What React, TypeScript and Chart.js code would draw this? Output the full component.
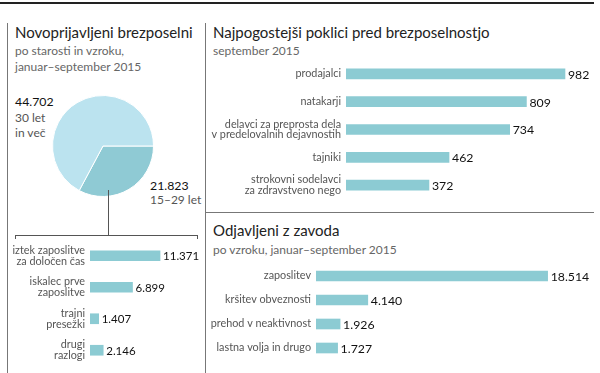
import React, { useEffect, useRef } from "react";
import { Chart, registerables } from "chart.js";
Chart.register(...registerables);

const FONT = "Lato, 'Open Sans', sans-serif";

const pieLabels = ["15–29 let", "30 let in več"];
const pieValues = [21823, 44702];

const reasonLabels = [
  ["iztek zaposlitve", "za določen čas"],
  ["iskalec prve", "zaposlitve"],
  ["trajni", "presežki"],
  ["drugi", "razlogi"],
];
const reasonValues = [11371, 6899, 1407, 2146];

const jobLabels = [
  "prodajalci",
  "natakarji",
  ["delavci za preprosta dela", "v predelovalnih dejavnostih"],
  "tajniki",
  ["strokovni sodelavci", "za zdravstveno nego"],
];
const jobValues = [982, 809, 734, 462, 372];

const outLabels = ["zaposlitev", "kršitev obveznosti", "prehod v neaktivnost", "lastna volja in drugo"];
const outValues = [18514, 4140, 1926, 1727];

const BAR = "#8ccbd3";
const PIE_LIGHT = "#bbe3ef";
const PIE_DARK = "#8fcad4";

const fmt = (v: number) => String(v).replace(/\B(?=(\d{3})+(?!\d))/g, ".");

function makeValuePlugin(size: number) {
  return {
    id: "vals",
    afterDatasetsDraw(chart: any) {
      const ctx = chart.ctx;
      const meta = chart.getDatasetMeta(0);
      const data = chart.data.datasets[0].data;
      ctx.save();
      ctx.font = `${size}px ${FONT}`;
      ctx.fillStyle = "#111";
      ctx.textBaseline = "middle";
      ctx.textAlign = "left";
      meta.data.forEach((el: any, i: number) => {
        ctx.fillText(fmt(data[i]), el.x + 3, el.y + 1);
      });
      ctx.restore();
    },
  };
}

type BarProps = {
  labels: any[];
  values: number[];
  max: number;
  axisWidth: number;
  left: number;
  top: number;
  width: number;
  height: number;
  labelSize: number;
  valueSize: number;
};

function HBar(p: BarProps) {
  const ref = useRef<HTMLCanvasElement | null>(null);
  useEffect(() => {
    if (!ref.current) return;
    const chart = new Chart(ref.current, {
      type: "bar",
      data: {
        labels: p.labels,
        datasets: [{ data: p.values, backgroundColor: BAR, barThickness: 10 }],
      },
      options: {
        indexAxis: "y",
        responsive: false,
        animation: false,
        devicePixelRatio: 1,
        layout: { padding: 0 },
        plugins: { legend: { display: false }, tooltip: { enabled: false } },
        scales: {
          x: { display: false, min: 0, max: p.max },
          y: {
            grid: { display: false, drawTicks: false },
            border: { display: false },
            ticks: {
              color: "#555",
              autoSkip: false,
              padding: 5,
              font: { family: FONT, size: p.labelSize, lineHeight: 1.0 },
            },
            afterFit(scale: any) {
              scale.width = p.axisWidth;
              scale.paddingTop = 0;
              scale.paddingBottom = 0;
            },
          },
        },
      } as any,
      plugins: [makeValuePlugin(p.valueSize)],
    });
    return () => chart.destroy();
  }, []);
  return (
    <canvas
      ref={ref}
      width={p.width}
      height={p.height}
      style={{ position: "absolute", left: p.left, top: p.top, width: p.width, height: p.height }}
    />
  );
}

function Pie() {
  const ref = useRef<HTMLCanvasElement | null>(null);
  useEffect(() => {
    if (!ref.current) return;
    const chart = new Chart(ref.current, {
      type: "pie",
      data: {
        labels: pieLabels,
        datasets: [{ data: pieValues, backgroundColor: [PIE_DARK, PIE_LIGHT], borderColor: "#ffffff", borderWidth: 1 }],
      },
      options: {
        responsive: false,
        animation: false,
        devicePixelRatio: 1,
        rotation: 90,
        layout: { padding: 0 },
        plugins: { legend: { display: false }, tooltip: { enabled: false } },
      } as any,
    });
    return () => chart.destroy();
  }, []);
  return (
    <canvas ref={ref} width={102} height={102} style={{ position: "absolute", left: 52, top: 95, width: 102, height: 102 }} />
  );
}

const T = (props: { x: number; y: number; size: number; color: string; children: any; weight?: number; lh?: number }) => (
  <div
    style={{
      position: "absolute",
      left: props.x,
      top: props.y,
      fontSize: props.size,
      color: props.color,
      fontWeight: props.weight || 400,
      lineHeight: (props.lh || Math.round(props.size + 4)) + "px",
      whiteSpace: "nowrap",
      fontFamily: FONT,
    }}
  >
    {props.children}
  </div>
);

const L = (props: { x: number; y: number; w: number; h: number; c: string }) => (
  <div style={{ position: "absolute", left: props.x, top: props.y, width: props.w, height: props.h, background: props.c }} />
);

export default function App() {
  return (
    <div style={{ position: "absolute", left: 0, top: 0, width: 600, height: 373, background: "#fff", overflow: "hidden" }}>
      <L x={0} y={2} w={594} h={2} c="#222" />
      <L x={7} y={23} w={1} h={350} c="#777" />
      <L x={205} y={23} w={1} h={350} c="#777" />
      <L x={205} y={212} w={389} h={1} c="#777" />

      <T x={15} y={23} size={15} color="#222">Novoprijavljeni brezposelni</T>
      <T x={15} y={43} size={12} color="#666" lh={16}>po starosti in vzroku,<br />januar–september 2015</T>

      <T x={213} y={23} size={15} color="#222">Najpogostejši poklici pred brezposelnostjo</T>
      <T x={213} y={43} size={12} color="#666">september 2015</T>

      <T x={213} y={221} size={15} color="#222">Odjavljeni z zavoda</T>
      <T x={213} y={242} size={12} color="#666">po vzroku, januar–september 2015</T>

      <T x={15} y={94} size={12.3} color="#111">{fmt(pieValues[1])}</T>
      <T x={15} y={110} size={12} color="#555" lh={15}>30 let<br />in več</T>
      <T x={150} y={178} size={12.3} color="#111">{fmt(pieValues[0])}</T>
      <T x={150} y={192} size={12} color="#555">{pieLabels[0]}</T>

      <Pie />
      <L x={108} y={190} w={1} h={45} c="#555" />
      <div style={{ position: "absolute", left: 15, top: 235, width: 181, height: 3, borderTop: "1px solid #555", borderLeft: "1px solid #555", borderRight: "1px solid #555" }} />

      <HBar labels={reasonLabels} values={reasonValues} max={18831} axisWidth={82} left={8} top={240} width={198} height={126} labelSize={10.8} valueSize={11.5} />
      <HBar labels={jobLabels} values={jobValues} max={1139} axisWidth={139} left={207} top={60} width={393} height={139} labelSize={10.8} valueSize={12.3} />
      <HBar labels={outLabels} values={outValues} max={22700} axisWidth={109} left={207} top={264} width={393} height={96} labelSize={10.8} valueSize={12.3} />
    </div>
  );
}
